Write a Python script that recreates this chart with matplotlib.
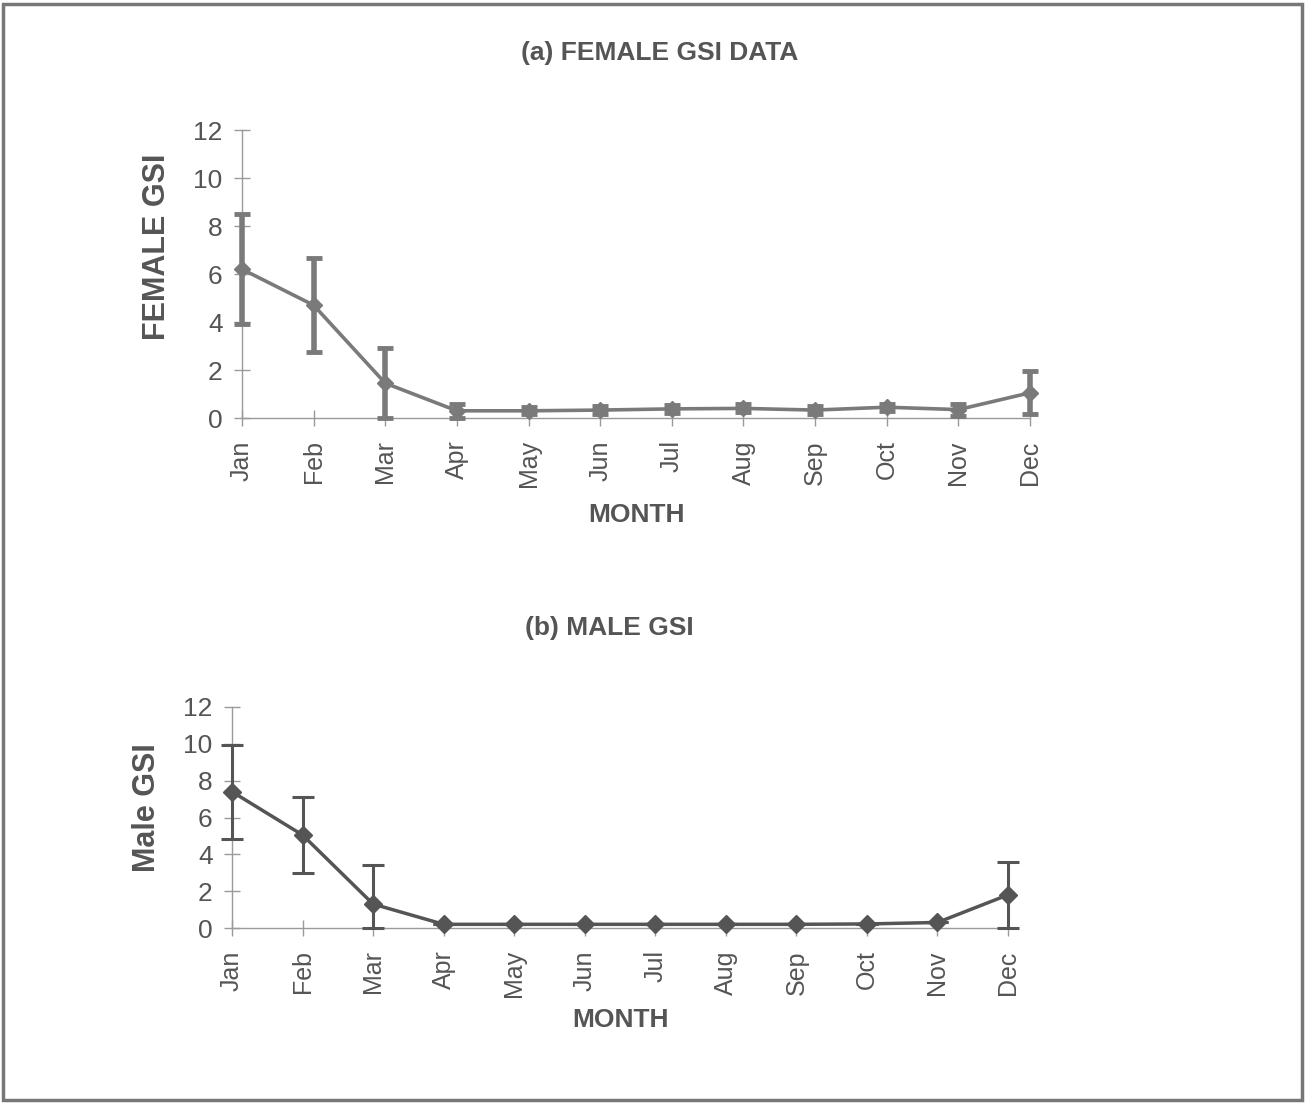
import numpy as np
import matplotlib
matplotlib.use('Agg')
import matplotlib.pyplot as plt
from matplotlib.patches import Rectangle

plt.rcParams['font.family'] = ['Liberation Sans', 'DejaVu Sans']

months = ['Jan', 'Feb', 'Mar', 'Apr', 'May', 'Jun',
          'Jul', 'Aug', 'Sep', 'Oct', 'Nov', 'Dec']

# female GSI, mean and +/- error
female_gsi = [6.2, 4.7, 1.45, 0.3, 0.3, 0.33, 0.38, 0.4, 0.33, 0.45, 0.35, 1.05]
female_err = [2.3, 1.95, 1.45, 0.28, 0.15, 0.17, 0.17, 0.17, 0.17, 0.15, 0.25, 0.9]

# male GSI, mean and +/- error
male_gsi = [7.4, 5.05, 1.3, 0.2, 0.2, 0.2, 0.2, 0.2, 0.2, 0.22, 0.3, 1.8]
male_err = [2.55, 2.05, 2.1, 0.0, 0.0, 0.0, 0.0, 0.0, 0.0, 0.0, 0.0, 1.8]

yticks = [0, 2, 4, 6, 8, 10, 12]

text_col = '#555555'
axis_col = '#9a9a9a'

fig = plt.figure(figsize=(13.06, 11.03), dpi=100)
W, H = 1306.0, 1103.0

def make_axes(x0, x1, y0, y1):
    # pixel box -> figure fraction
    return fig.add_axes([x0 / W, 1 - y1 / H, (x1 - x0) / W, (y1 - y0) / H])

def style(ax):
    for s in ['top', 'right']:
        ax.spines[s].set_visible(False)
    for s in ['left', 'bottom']:
        ax.spines[s].set_color(axis_col)
        ax.spines[s].set_linewidth(1.0)
    x = np.arange(len(months))
    ax.set_xlim(0, len(months) - 1)
    ax.set_ylim(0, 12)
    ax.set_xticks(x)
    ax.set_xticklabels(months, rotation=90, fontsize=18, color=text_col)
    ax.set_yticks(yticks)
    ax.set_yticklabels([str(t) for t in yticks], fontsize=19, color=text_col)
    ax.tick_params(axis='both', direction='inout', length=12, width=1.0,
                   color=axis_col)
    ax.tick_params(axis='x', pad=10)
    ax.tick_params(axis='y', pad=8)

x = np.arange(len(months))

# (a) female
ax1 = make_axes(242, 1030, 130, 418)
style(ax1)
ax1.errorbar(x, female_gsi, yerr=female_err, color='#7a7a7a', lw=2.6,
             marker='D', ms=8, elinewidth=4, capsize=6, capthick=3.5,
             clip_on=False, zorder=3)
ax1.set_xlabel('MONTH', fontsize=19, fontweight='bold', color=text_col, va='center')
ax1.xaxis.set_label_coords(0.5, -0.337)
ax1.set_ylabel('FEMALE GSI', fontsize=22, fontweight='bold', color=text_col, va='center')
ax1.yaxis.set_label_coords(-0.108, 0.594)
ax1.set_title('(a) FEMALE GSI DATA', fontsize=19, fontweight='bold',
              color=text_col, x=0.530, y=1.267, va='center', pad=0)

# (b) male
ax2 = make_axes(232, 1008, 707, 928)
style(ax2)
merr = np.array(male_err)
lower = np.minimum(merr, np.array(male_gsi))
ax2.errorbar(x, male_gsi, yerr=[lower, merr], color='#555555', lw=2.5,
             marker='D', ms=9, elinewidth=2.2, capsize=8, capthick=2.2,
             clip_on=False, zorder=3)
ax2.set_xlabel('MONTH', fontsize=19, fontweight='bold', color=text_col, va='center')
ax2.xaxis.set_label_coords(0.5, -0.416)
ax2.set_ylabel('Male GSI', fontsize=22, fontweight='bold', color=text_col, va='center')
ax2.yaxis.set_label_coords(-0.11, 0.543)
ax2.set_title('(b) MALE GSI', fontsize=19, fontweight='bold',
              color=text_col, x=0.486, y=1.357, va='center', pad=0)

# outer frame
fig.patches.append(Rectangle((3 / W, 3 / H), 1 - 7 / W, 1 - 7 / H,
                             transform=fig.transFigure, fill=False,
                             edgecolor='#777777', lw=2.5))

fig.savefig('out.png', dpi=100)
